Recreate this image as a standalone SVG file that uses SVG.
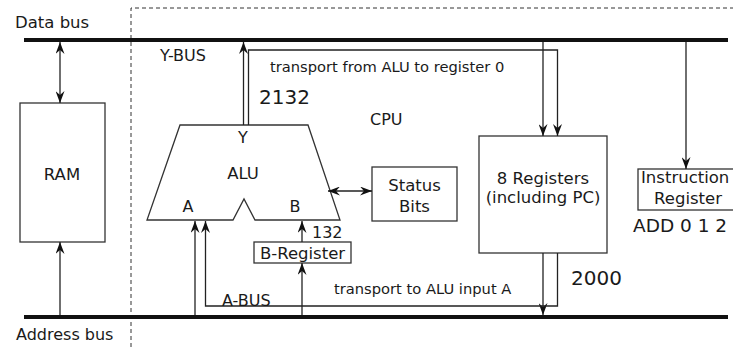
<svg xmlns="http://www.w3.org/2000/svg" width="733" height="347" viewBox="0 0 733 347">
<style>
text{font-family:"DejaVu Sans","Liberation Sans",sans-serif;fill:#1a1a1a}
.box{fill:#fff;stroke:#333;stroke-width:1.3}
.ln{fill:none;stroke:#222;stroke-width:1.3}
.bus{stroke:#111;stroke-width:4}
.dash{fill:none;stroke:#333;stroke-width:1;stroke-dasharray:4,3}
.m{text-anchor:middle}
</style>
<defs>
<marker id="ah" viewBox="0 0 12 9" refX="12" refY="4.5" markerWidth="12" markerHeight="9" markerUnits="userSpaceOnUse" orient="auto-start-reverse">
<path d="M0,0 L12,4.5 L0,9 L4,4.5 z" fill="#111"/>
</marker>
</defs>
<rect width="733" height="347" fill="#fff"/>
<g id="cpu-frame">
<path class="dash" d="M131,347 V8 H733"/>
<text x="370" y="125" font-size="16">CPU</text>
</g>
<g id="data-bus">
<line class="bus" x1="24" y1="40" x2="728" y2="40"/>
<text x="15" y="28" font-size="16.5">Data bus</text>
</g>
<g id="address-bus">
<line class="bus" x1="24" y1="317" x2="728" y2="317"/>
<text x="16" y="340" font-size="16">Address bus</text>
</g>
<g id="ram">
<rect class="box" x="20" y="103" width="85" height="139"/>
<text class="m" x="62" y="180" font-size="16.5">RAM</text>
</g>
<g id="alu">
<path class="box" d="M180,125 H308 L340,220 H255 L244,199 L233,220 H147 Z"/>
<text class="m" x="243" y="143" font-size="16">Y</text>
<text class="m" x="243" y="179" font-size="16.5">ALU</text>
<text class="m" x="188" y="212" font-size="16">A</text>
<text class="m" x="295" y="212" font-size="16">B</text>
</g>
<g id="status-bits">
<rect class="box" x="372" y="167" width="85" height="54"/>
<text class="m" x="414.5" y="191" font-size="16.5">Status</text>
<text class="m" x="414.5" y="212" font-size="16.5">Bits</text>
</g>
<g id="b-register">
<rect class="box" x="254" y="242" width="97" height="21"/>
<text class="m" x="302.5" y="259" font-size="16.5">B-Register</text>
</g>
<g id="registers">
<rect class="box" x="479" y="136" width="128" height="117"/>
<text class="m" x="543" y="184" font-size="16.5">8 Registers</text>
<text class="m" x="543" y="203" font-size="16.5">(including PC)</text>
</g>
<g id="instruction-register">
<rect class="box" x="638" y="169" width="100" height="41"/>
<text x="641" y="183" font-size="16.5">Instruction</text>
<text class="m" x="688" y="204" font-size="16.5">Register</text>
<text x="633" y="232" font-size="18.5">ADD 0 1 2</text>
</g>
<g id="connectors">
<line class="ln" x1="60" y1="42" x2="60" y2="103" marker-start="url(#ah)" marker-end="url(#ah)"/>
<line class="ln" x1="60" y1="315" x2="60" y2="242" marker-end="url(#ah)"/>
<line class="ln" x1="243.5" y1="125" x2="243.5" y2="42" marker-end="url(#ah)"/>
<path class="ln" d="M248.5,125 V50 H557.5 V136" marker-end="url(#ah)"/>
<line class="ln" x1="543" y1="42" x2="543" y2="136" marker-end="url(#ah)"/>
<line class="ln" x1="686" y1="42" x2="686" y2="169" marker-end="url(#ah)"/>
<line class="ln" x1="328" y1="191" x2="372" y2="191" marker-start="url(#ah)" marker-end="url(#ah)"/>
<line class="ln" x1="543" y1="253" x2="543" y2="315" marker-end="url(#ah)"/>
<path class="ln" d="M557.5,253 V306 H205.5 V221" marker-end="url(#ah)"/>
<line class="ln" x1="195" y1="315" x2="195" y2="221" marker-end="url(#ah)"/>
<line class="ln" x1="302" y1="315" x2="302" y2="263" marker-end="url(#ah)"/>
<line class="ln" x1="302" y1="242" x2="302" y2="221" marker-end="url(#ah)"/>
<text x="160" y="61" font-size="16">Y-BUS</text>
<text x="270" y="72" font-size="14.7">transport from ALU to register 0</text>
<text x="259" y="104" font-size="20">2132</text>
<text x="312" y="238" font-size="16">132</text>
<text x="222" y="306" font-size="16">A-BUS</text>
<text x="334" y="294" font-size="14.7">transport to ALU input A</text>
<text x="571" y="285" font-size="20">2000</text>
</g>
</svg>
